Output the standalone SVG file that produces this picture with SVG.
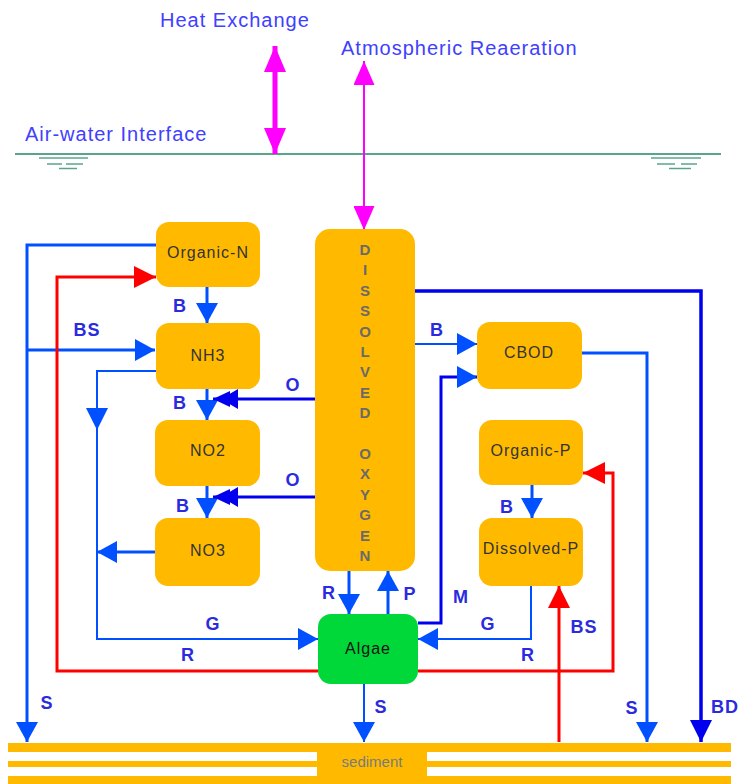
<svg xmlns="http://www.w3.org/2000/svg" width="740" height="784" viewBox="0 0 740 784">
<style>
.big{font-family:"Liberation Sans",Arial,sans-serif;font-size:20px;fill:#4040ff;letter-spacing:1px}
.node{fill:#ffba00}
.alg{fill:#00d83a}
.nt{font-family:"Liberation Sans",Arial,sans-serif;font-size:16px;fill:#333;letter-spacing:1px;text-anchor:middle}
.do{font-family:"Liberation Sans",Arial,sans-serif;font-size:15px;font-weight:bold;fill:#6a6a6a;text-anchor:middle}
.lb{font-family:"Liberation Sans",Arial,sans-serif;font-size:18px;font-weight:bold;fill:#2a2ae0;text-anchor:middle;letter-spacing:1px}
.c{fill:none;stroke-linejoin:miter}
.b3{stroke:#0050ff;stroke-width:3}
.b2{stroke:#0050ff;stroke-width:2}
.d3{stroke:#0000ee;stroke-width:3}
.r3{stroke:#ff0000;stroke-width:3}
.wl{stroke:#5aa58a;stroke-width:2}
</style>
<defs>
<marker id="ab" markerUnits="userSpaceOnUse" viewBox="0 0 20 22" refX="20" refY="11" markerWidth="20" markerHeight="22" orient="auto"><path d="M0,0 L20,11 L0,22 z" fill="#0050ff"/></marker>
<marker id="ad" markerUnits="userSpaceOnUse" viewBox="0 0 22 22" refX="22" refY="11" markerWidth="22" markerHeight="22" orient="auto"><path d="M0,0 L22,11 L0,22 z" fill="#0000ee"/></marker>
<marker id="ar" markerUnits="userSpaceOnUse" viewBox="0 0 22 22" refX="22" refY="11" markerWidth="22" markerHeight="22" orient="auto"><path d="M0,0 L22,11 L0,22 z" fill="#ff0000"/></marker>
<marker id="adbl" markerUnits="userSpaceOnUse" viewBox="0 0 25 20" refX="25" refY="10" markerWidth="25" markerHeight="20" orient="auto"><path d="M0,0 L17,10 L0,20 z M8,2 L25,10 L8,18 z" fill="#0000ee"/></marker>
<marker id="am" markerUnits="userSpaceOnUse" viewBox="0 0 24 21" refX="24" refY="10.5" markerWidth="24" markerHeight="21" orient="auto-start-reverse"><path d="M0,0 L24,10.5 L0,21 z" fill="#ff00ff"/></marker>
<marker id="am2" markerUnits="userSpaceOnUse" viewBox="0 0 26 22" refX="26" refY="11" markerWidth="26" markerHeight="22" orient="auto-start-reverse"><path d="M0,0 L26,11 L0,22 z" fill="#ff00ff"/></marker>
</defs>

<!-- surface -->
<g id="surface">
<text class="big" x="160" y="27">Heat Exchange</text>
<text class="big" x="341" y="55">Atmospheric Reaeration</text>
<text class="big" x="25" y="141">Air-water Interface</text>
<line class="wl" x1="15" y1="154" x2="721" y2="154"/>
<g stroke="#5aa58a" stroke-width="1.5">
<line x1="39" y1="158" x2="88" y2="158"/>
<line x1="47" y1="164" x2="62" y2="164"/>
<line x1="66" y1="164" x2="83" y2="164"/>
<line x1="59" y1="168.5" x2="77" y2="168.5"/>
<line x1="651" y1="158" x2="701" y2="158"/>
<line x1="657" y1="164" x2="675" y2="164"/>
<line x1="681" y1="164" x2="697" y2="164"/>
<line x1="669" y1="168.5" x2="691" y2="168.5"/>
</g>
</g>

<!-- sediment -->
<g id="sediment">
<rect x="8" y="743" width="723" height="9" fill="#ffba00"/>
<rect x="8" y="761" width="723" height="6" fill="#ffba00"/>
<rect x="8" y="776" width="723" height="9" fill="#ffba00"/>
<rect x="317" y="743" width="110" height="41" fill="#ffba00"/>
<text x="372" y="767" font-family="Liberation Sans, Arial, sans-serif" font-size="15" fill="#7a7a7a" text-anchor="middle">sediment</text>
</g>

<!-- connectors -->
<g id="connectors">
<path class="c" d="M275,46 V154" stroke="#ff00ff" stroke-width="5" marker-start="url(#am2)" marker-end="url(#am2)"/>
<path class="c" d="M364,61 V230" stroke="#ff00ff" stroke-width="2" marker-start="url(#am)" marker-end="url(#am)"/>

<path class="c b3" d="M156,245 H27 V742" marker-end="url(#ab)"/>
<path class="c b3" d="M27,350 H155" marker-end="url(#ab)"/>
<path class="c r3" d="M318,671 H57 V277 H156" marker-end="url(#ar)"/>
<path class="c r3" d="M418,671 H613 V473 H583" marker-end="url(#ar)"/>
<path class="c r3" d="M559,742 V586" marker-end="url(#ar)"/>
<path class="c b2" d="M156,371 H97 V639 H318" marker-end="url(#ab)"/>
<polygon points="86,408 108,408 97,430" fill="#0050ff"/>
<path class="c b3" d="M155,552 H97" marker-end="url(#ab)"/>
<path class="c b3" d="M207,287 V323" marker-end="url(#ab)"/>
<path class="c b3" d="M207,389 V420" marker-end="url(#ab)"/>
<path class="c b3" d="M207,486 V518" marker-end="url(#ab)"/>
<path class="c d3" d="M315,399 H213" marker-end="url(#adbl)"/>
<path class="c d3" d="M315,497 H213" marker-end="url(#adbl)"/>
<path class="c" d="M415,291 H701 V742" stroke="#0000ee" stroke-width="3.5" marker-end="url(#ad)"/>
<path class="c b2" d="M415,344 H477" marker-end="url(#ab)"/>
<path class="c d3" d="M418,623 H441 V377 H477" marker-end="url(#ab)"/>
<path class="c b3" d="M582,353 H647 V742" marker-end="url(#ab)"/>
<path class="c b3" d="M532,485 V518" marker-end="url(#ab)"/>
<path class="c b2" d="M531,586 V639 H418" marker-end="url(#ab)"/>
<path class="c b3" d="M349,571 V614" marker-end="url(#ab)"/>
<path class="c b3" d="M388,614 V571" marker-end="url(#ab)"/>
<path class="c b2" d="M364,684 V742" marker-end="url(#ab)"/>
</g>

<!-- labels -->
<g id="labels">
<text class="lb" x="180" y="312">B</text>
<text class="lb" x="87" y="336">BS</text>
<text class="lb" x="180" y="409">B</text>
<text class="lb" x="293" y="391">O</text>
<text class="lb" x="293" y="486">O</text>
<text class="lb" x="183" y="512">B</text>
<text class="lb" x="213" y="630">G</text>
<text class="lb" x="188" y="661">R</text>
<text class="lb" x="47" y="709">S</text>
<text class="lb" x="329" y="599">R</text>
<text class="lb" x="410" y="600">P</text>
<text class="lb" x="381" y="713">S</text>
<text class="lb" x="437" y="336">B</text>
<text class="lb" x="507" y="513">B</text>
<text class="lb" x="461" y="603">M</text>
<text class="lb" x="488" y="630">G</text>
<text class="lb" x="528" y="661">R</text>
<text class="lb" x="584" y="633">BS</text>
<text class="lb" x="632" y="714">S</text>
<text class="lb" x="725" y="713">BD</text>
</g>

<!-- nodes -->
<g id="organic-n"><rect class="node" x="156" y="222" width="104" height="65" rx="13"/><text class="nt" x="208" y="258">Organic-N</text></g>
<g id="nh3"><rect class="node" x="156" y="323" width="104" height="66" rx="13"/><text class="nt" x="208" y="361">NH3</text></g>
<g id="no2"><rect class="node" x="155" y="420" width="105" height="66" rx="13"/><text class="nt" x="208" y="456">NO2</text></g>
<g id="no3"><rect class="node" x="155" y="518" width="105" height="68" rx="13"/><text class="nt" x="208" y="556">NO3</text></g>
<g id="cbod"><rect class="node" x="477" y="322" width="105" height="67" rx="13"/><text class="nt" x="529" y="358">CBOD</text></g>
<g id="organic-p"><rect class="node" x="479" y="420" width="104" height="65" rx="13"/><text class="nt" x="531" y="456">Organic-P</text></g>
<g id="dissolved-p"><rect class="node" x="479" y="518" width="104" height="68" rx="13"/><text class="nt" x="531" y="554">Dissolved-P</text></g>
<g id="algae"><rect class="alg" x="318" y="614" width="100" height="70" rx="13"/><text class="nt" x="368" y="654" style="fill:#111">Algae</text></g>
<g id="dissolved-oxygen">
<rect class="node" x="315" y="229" width="100" height="342" rx="15"/>
<text class="do" x="365" y="255">D</text>
<text class="do" x="365" y="275.4">I</text>
<text class="do" x="365" y="295.8">S</text>
<text class="do" x="365" y="316.2">S</text>
<text class="do" x="365" y="336.6">O</text>
<text class="do" x="365" y="357">L</text>
<text class="do" x="365" y="377.4">V</text>
<text class="do" x="365" y="397.8">E</text>
<text class="do" x="365" y="418.2">D</text>
<text class="do" x="365" y="459">O</text>
<text class="do" x="365" y="479.4">X</text>
<text class="do" x="365" y="499.8">Y</text>
<text class="do" x="365" y="520.2">G</text>
<text class="do" x="365" y="540.6">E</text>
<text class="do" x="365" y="561">N</text>
</g>
</svg>
